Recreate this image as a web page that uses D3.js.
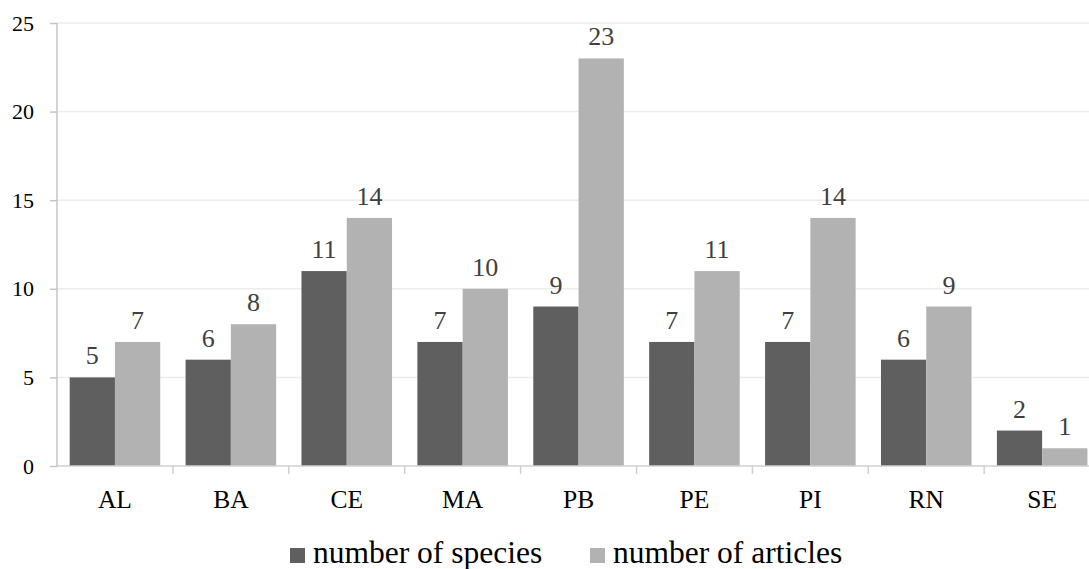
<!DOCTYPE html>
<html><head><meta charset="utf-8">
<script src="https://cdn.jsdelivr.net/npm/d3@7"></script>
<style>body{margin:0;background:#fff}svg{display:block}</style>
</head><body>
<svg id="c" width="1089" height="569"></svg>
<script>
const categories = ["AL","BA","CE","MA","PB","PE","PI","RN","SE"];
const seriesNames = ["number of species","number of articles"];
const species = [5,6,11,7,9,7,7,6,2];
const articles = [7,8,14,10,23,11,14,9,1];
const yTicks = [0,5,10,15,20,25];
const colors = ["#5f5f5f","#b2b2b2"];

const svg = d3.select("#c");
const x0 = 57, bandW = 115.9;
const x = d3.scaleBand().domain(categories).range([x0, x0 + bandW*categories.length]).paddingInner(0).paddingOuter(0);
const xs = d3.scaleBand().domain([0,1]).range([0, x.bandwidth()]).paddingInner(0).paddingOuter(0.28);
const y = d3.scaleLinear().domain([0,25]).range([466,23]);
const font = "'Liberation Serif','Times New Roman',serif";

// gridlines
svg.append("g").selectAll("line").data(yTicks.filter(d=>d>0)).join("line")
  .attr("x1",x0).attr("x2",1089).attr("y1",d=>y(d)).attr("y2",d=>y(d))
  .attr("stroke","#ececec").attr("stroke-width",1.5);

// bars
const data = [species, articles];
const g = svg.append("g");
data.forEach((arr,si)=>{
  g.selectAll(null).data(arr).join("rect")
    .attr("x",(d,i)=>x(categories[i])+xs(si))
    .attr("y",d=>y(d)).attr("width",xs.bandwidth()).attr("height",d=>y(0)-y(d))
    .attr("fill",colors[si]);
  g.selectAll(null).data(arr).join("text")
    .attr("x",(d,i)=>x(categories[i])+xs(si)+xs.bandwidth()/2)
    .attr("y",d=>y(d)-13)
    .attr("text-anchor","middle").attr("font-family",font).attr("font-size",26)
    .attr("fill","#404040").text(d=>d);
});

// y axis
const ya = svg.append("g").attr("transform",`translate(${x0},0)`)
  .call(d3.axisLeft(y).tickValues(yTicks).tickSize(7).tickPadding(16));
ya.select(".domain").attr("stroke","#c4c4c4").attr("stroke-width",1.5).attr("d",`M0,${y(25)}V${y(0)}`);
ya.selectAll(".tick line").attr("stroke","#c4c4c4").attr("stroke-width",1.5);
ya.selectAll(".tick text").attr("font-family",font).attr("font-size",22).attr("fill","#000");

// x axis
const xa = svg.append("g").attr("transform",`translate(0,${y(0)})`)
  .call(d3.axisBottom(x).tickSize(0).tickPadding(0));
xa.select(".domain").attr("stroke","#d0d0d0").attr("stroke-width",1.5).attr("d",`M${x0},0H1089`);
xa.selectAll(".tick text").attr("font-family",font).attr("font-size",25.5).attr("fill","#000")
  .attr("dy",null).attr("y",42);
xa.selectAll("line.sep").data(categories.map((c,i)=>x0+bandW*(i+1))).join("line")
  .attr("class","sep").attr("x1",d=>d).attr("x2",d=>d).attr("y1",0).attr("y2",8)
  .attr("stroke","#d0d0d0").attr("stroke-width",1.5);

// legend
const lg = svg.append("g");
const lx = [290, 590];
seriesNames.forEach((n,i)=>{
  lg.append("rect").attr("x",lx[i]).attr("y",548).attr("width",15).attr("height",15).attr("fill",colors[i]);
  lg.append("text").attr("x",lx[i]+23).attr("y",563).attr("font-family",font).attr("font-size",31.5)
    .attr("fill","#000").text(n);
});
</script>
</body></html>
